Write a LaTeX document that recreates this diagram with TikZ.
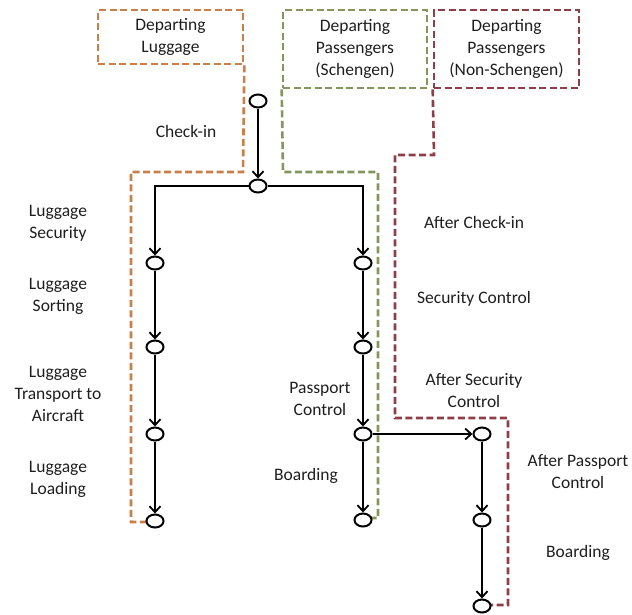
\documentclass[tikz,border=0pt]{standalone}
\usepackage{fontspec}
\setmainfont{Carlito}
\usetikzlibrary{shapes.geometric,arrows.meta}
\definecolor{lugorange}{RGB}{200,128,72}
\definecolor{schgreen}{RGB}{132,150,92}
\definecolor{nschred}{RGB}{142,62,70}
\definecolor{txtgray}{RGB}{30,30,30}
\begin{document}
\begin{tikzpicture}[x=1pt,y=-1pt,
  font=\fontsize{17.5}{22}\selectfont,
  state/.style={ellipse,draw,line width=2pt,fill=white,minimum width=17pt,minimum height=13pt,inner sep=0pt},
  flow/.style={line width=2pt,-{Straight Barb[length=6pt,width=11pt,line width=1.8pt]}},
  lbl/.style={align=center,text=txtgray,inner sep=0pt},
  zone/.style={line width=2.6pt,dash pattern=on 7pt off 3.5pt},
  zonebox/.style={zone,align=center,text=txtgray,inner sep=0pt}]
\useasboundingbox (0,0) rectangle (632,614);

% zone outlines
\node[zonebox,draw=lugorange,minimum width=145pt,minimum height=54pt] (lugbox) at (170.5,37) {Departing\\Luggage};
\node[zonebox,draw=schgreen,minimum width=144pt,minimum height=78pt] (schbox) at (355,49) {Departing\\Passengers\\(Schengen)};
\node[zonebox,draw=nschred,minimum width=145pt,minimum height=78pt] (nschbox) at (506.5,49) {Departing\\Passengers\\(Non-Schengen)};

\draw[zone,draw=lugorange] (lugbox.south east) -- (243,172) -- (131,172) -- (131,522) -- (147,522);
\draw[zone,draw=schgreen] (schbox.south west) -- (283,172) -- (378,172) -- (378,518) -- (370,518);
\draw[zone,draw=nschred] (nschbox.south west) -- (434,155) -- (395,155) -- (395,418) -- (508,418) -- (508,605) -- (491,605);

% states
\node[state] (n0) at (258,101) {};
\node[state] (n1) at (258,186) {};
\node[state] (l1) at (155,263) {};
\node[state] (l2) at (155,347) {};
\node[state] (l3) at (155,434) {};
\node[state] (l4) at (155,521) {};
\node[state] (s1) at (363,263) {};
\node[state] (s2) at (363,347) {};
\node[state] (s3) at (363,434) {};
\node[state] (s4) at (363,520) {};
\node[state] (p1) at (482,434) {};
\node[state] (p2) at (482,520) {};
\node[state] (p3) at (482,606) {};

% transitions
\draw[flow] (n0) -- (n1);
\draw[flow] (n1) -| (l1);
\draw[flow] (n1) -| (s1);
\draw[flow] (l1) -- (l2);
\draw[flow] (l2) -- (l3);
\draw[flow] (l3) -- (l4);
\draw[flow] (s1) -- (s2);
\draw[flow] (s2) -- (s3);
\draw[flow] (s3) -- (s4);
\draw[flow] (s3) -- (p1);
\draw[flow] (p1) -- (p2);
\draw[flow] (p2) -- (p3);

% labels
\node[lbl] (tcheck) at (186,131) {Check-in};
\node[lbl] (tlsec) at (58,223) {Luggage\\Security};
\node[lbl] (tlsort) at (58,296) {Luggage\\Sorting};
\node[lbl] (tltr) at (58,394) {Luggage\\Transport to\\Aircraft};
\node[lbl] (tlload) at (58,479) {Luggage\\Loading};
\node[lbl] (tach) at (474,222) {After Check-in};
\node[lbl] (tsec) at (474,299) {Security Control};
\node[lbl] (tasec) at (474,391) {After Security\\Control};
\node[lbl] (tpass) at (320,399) {Passport\\Control};
\node[lbl] (tboard) at (306,476) {Boarding};
\node[lbl] (tapass) at (578,472) {After Passport\\Control};
\node[lbl] (tboard2) at (578,553) {Boarding};
\end{tikzpicture}
\end{document}
